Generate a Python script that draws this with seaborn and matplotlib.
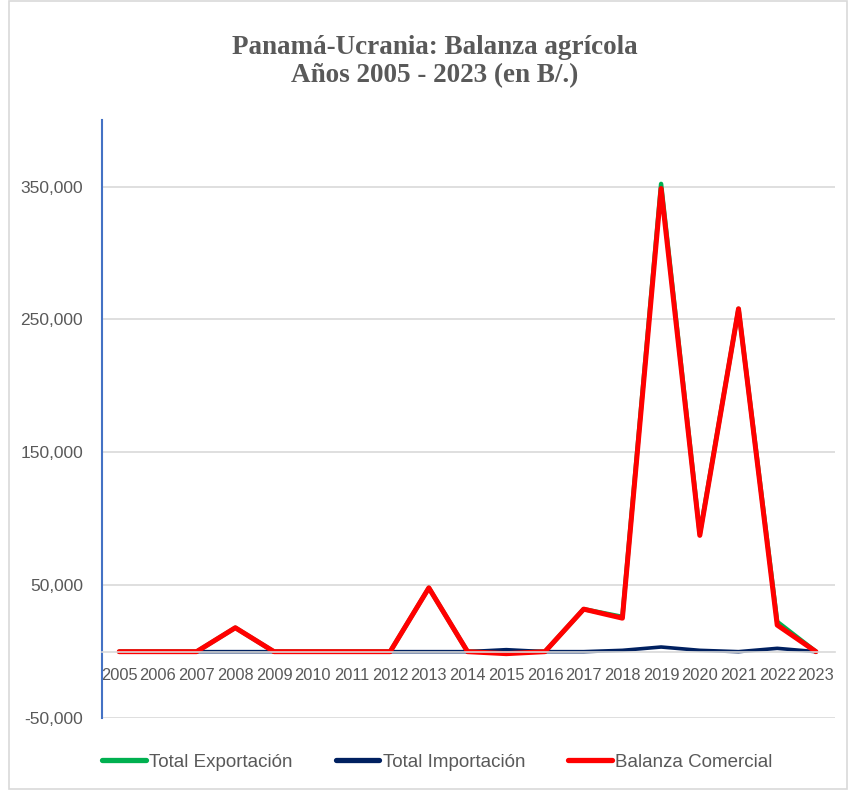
import matplotlib
matplotlib.use('Agg')
import matplotlib.pyplot as plt
import matplotlib.ticker as mticker
from matplotlib.patches import Rectangle
import seaborn as sns
import pandas as pd

# data (B/.)
years = [str(y) for y in range(2005, 2024)]
exportacion = [0, 0, 0, 18000, 0, 0, 0, 0, 48000, 0, 0, 0, 32000, 26200, 352000, 88500, 258000, 22500, 0]
importacion = [0, 0, 0, 0, 0, 0, 0, 0, 0, 0, 1500, 0, 0, 1000, 3500, 1000, 0, 2500, 0]
balanza = [0, 0, 0, 18000, 0, 0, 0, 0, 48000, 0, -1500, 0, 32000, 25200, 348500, 87500, 258000, 20000, 0]
series = ["Total Exportación", "Total Importación", "Balanza Comercial"]
colors = ["#00B050", "#002060", "#FF0000"]

sns.set_style("white")
plt.rcParams['font.family'] = ['Liberation Sans', 'DejaVu Sans']

df = pd.DataFrame({
    "idx": list(range(len(years))) * 3,
    "valor": exportacion + importacion + balanza,
    "serie": [series[0]] * len(years) + [series[1]] * len(years) + [series[2]] * len(years),
})

fig = plt.figure(figsize=(8.48, 7.9), dpi=100)
ax = fig.add_axes([0.120, 0.091, 0.865, 0.757])

sns.lineplot(data=df, x="idx", y="valor", hue="serie", hue_order=series,
             palette=colors, linewidth=3, ax=ax, legend=False)
# line weights as in the reference
ax.lines[0].set_linewidth(3.2)
ax.lines[1].set_linewidth(2.6)
ax.lines[2].set_linewidth(3.6)

ax.set_xlim(-0.45, len(years) - 0.5)
ax.set_ylim(-50000, 400000)
ax.yaxis.set_major_locator(mticker.FixedLocator([-50000, 50000, 150000, 250000, 350000]))
ax.yaxis.set_major_formatter(mticker.FuncFormatter(lambda v, p: f"{int(v):,}"))
ax.set_xticks(range(len(years)))
ax.set_xticklabels(years)
ax.set_xlabel("")
ax.set_ylabel("")

ax.grid(axis="y", color="#d9d9d9", linewidth=1.2)
ax.set_axisbelow(True)
for s in ["top", "right"]:
    ax.spines[s].set_visible(False)
ax.spines["bottom"].set_position(("data", 0))
ax.spines["bottom"].set_color("#d9d9d9")
ax.spines["bottom"].set_linewidth(1.2)
ax.spines["left"].set_color("#4472C4")
ax.spines["left"].set_linewidth(1.5)

ax.tick_params(axis="x", length=0, pad=12, labelsize=11.8, labelcolor="#595959")
ax.tick_params(axis="y", direction="inout", length=7, width=1.5, color="#4472C4",
               pad=10, labelsize=12.5, labelcolor="#595959")

fig.text(0.513, 0.922, "Panamá-Ucrania: Balanza agrícola\nAños 2005 - 2023 (en B/.)",
         ha="center", va="center", fontsize=19.5, fontweight="bold",
         color="#595959", family=["Liberation Serif", "DejaVu Serif"], linespacing=1.2)

handles = [plt.Line2D([0], [0], color=c, linewidth=3.8, solid_capstyle="round") for c in colors]
fig.legend(handles, series, loc="center", bbox_to_anchor=(0.516, 0.035), ncol=3,
           frameon=False, fontsize=13.5, labelcolor="#595959",
           handlelength=2.3, handletextpad=0.2, columnspacing=2.3)

fig.patches.append(Rectangle((0.011, 0.001), 0.988, 0.998, transform=fig.transFigure,
                             fill=False, edgecolor="#d9d9d9", linewidth=1.2))

fig.savefig("out.png", dpi=100)
